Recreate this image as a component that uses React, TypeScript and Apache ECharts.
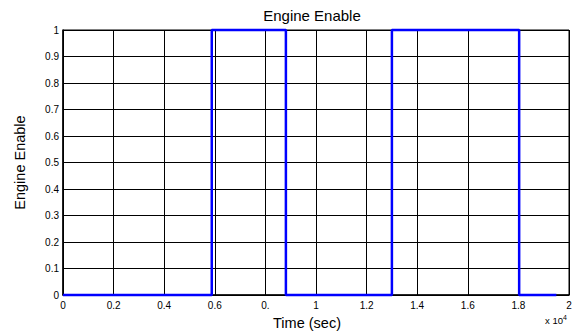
import React, { useEffect, useRef } from "react";
import * as echarts from "echarts";

const times = [0, 5880, 5880, 8810, 8810, 13000, 13000, 18030, 18030, 19500];
const levels = [0, 0, 1, 1, 0, 0, 1, 1, 0, 0];
const xTickLabels = ["0", "0.2", "0.4", "0.6", "0.", "1", "1.2", "1.4", "1.6", "1.8", "2"];
const yTickLabels = ["0", "0.1", "0.2", "0.3", "0.4", "0.5", "0.6", "0.7", "0.8", "0.9", "1"];

const FONT = "Liberation Sans, Arial, sans-serif";

export default function App() {
  const ref = useRef<HTMLDivElement>(null);
  useEffect(() => {
    if (!ref.current) return;
    const chart = echarts.init(ref.current, null, { renderer: "svg" });
    chart.setOption({
      animation: false,
      backgroundColor: "#ffffff",
      title: {
        text: "Engine Enable",
        left: 307,
        top: 3,
        textAlign: "center",
        textStyle: { fontFamily: FONT, fontSize: 15, fontWeight: "normal", color: "#000" },
      },
      grid: { left: 63, right: 6, top: 30, bottom: 35, show: true, borderColor: "#000", borderWidth: 1 },
      xAxis: {
        type: "value",
        min: 0,
        max: 20000,
        interval: 2000,
        name: "Time (sec)",
        nameLocation: "middle",
        nameGap: 16,
        nameTextStyle: { fontFamily: FONT, fontSize: 14.5, color: "#000", padding: [0, 18, 0, 0] },
        axisLine: { show: true, lineStyle: { color: "#000", width: 1.5 } },
        axisTick: { show: true, inside: true, length: 4, lineStyle: { color: "#000" } },
        axisLabel: {
          fontFamily: FONT,
          fontSize: 10,
          color: "#000",
          margin: 5,
          formatter: (v: number) => xTickLabels[Math.round(v / 2000)] ?? "",
        },
        splitLine: { show: true, lineStyle: { color: "#000", width: 1 } },
      },
      yAxis: {
        type: "value",
        min: 0,
        max: 1,
        interval: 0.1,
        name: "Engine Enable",
        nameLocation: "middle",
        nameGap: 36,
        nameRotate: 90,
        nameTextStyle: { fontFamily: FONT, fontSize: 14.5, color: "#000" },
        axisLine: { show: true, lineStyle: { color: "#000", width: 1.5 } },
        axisTick: { show: true, inside: true, length: 4, lineStyle: { color: "#000" } },
        axisLabel: {
          fontFamily: FONT,
          fontSize: 10,
          color: "#000",
          margin: 4,
          formatter: (v: number) => yTickLabels[Math.round(v * 10)] ?? "",
        },
        splitLine: { show: true, lineStyle: { color: "#000", width: 1 } },
      },
      graphic: [
        {
          type: "text",
          left: 545,
          top: 314,
          style: {
            text: "x 10{s|4}",
            fontFamily: FONT,
            fontSize: 9.5,
            fill: "#000",
            rich: { s: { fontSize: 7, verticalAlign: "top", padding: [0, 0, 6, 0], fontFamily: FONT } },
          },
        },
      ],
      series: [
        {
          type: "line",
          data: times.map((t, i) => [t, levels[i]]),
          showSymbol: false,
          clip: false,
          lineStyle: { color: "#0000ff", width: 2.5 },
        },
      ],
    });
    return () => chart.dispose();
  }, []);
  return <div ref={ref} style={{ width: 575, height: 335, position: "absolute", left: 0, top: 0 }} />;
}
